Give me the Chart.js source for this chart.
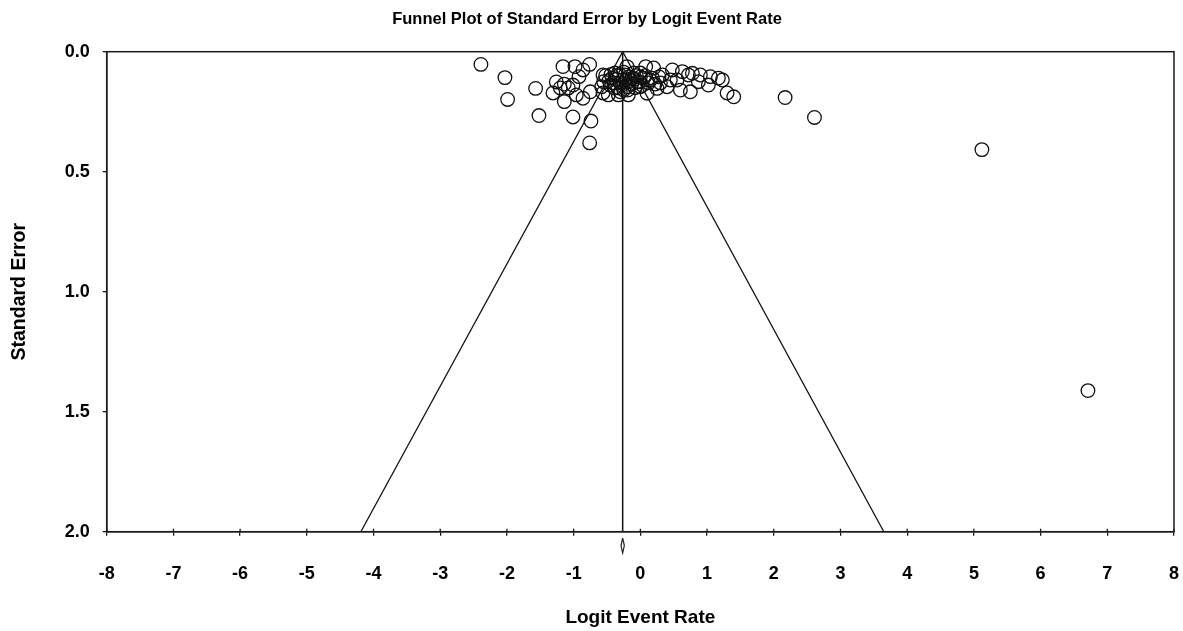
<!DOCTYPE html>
<html>
<head>
<meta charset="utf-8">
<script src="https://cdn.jsdelivr.net/npm/chart.js@4/dist/chart.umd.min.js"></script>
<style>
  html, body { margin: 0; padding: 0; background: #ffffff; }
  #wrap { width: 1183px; height: 631px; position: relative; }
</style>
</head>
<body>
<div id="wrap"><canvas id="c" width="1183" height="631"></canvas></div>
<script>
// ---- data ----
const logitRate = [
  -2.39, -2.03, -1.99, -1.57, -1.52, -1.16, -0.98, -0.76, -1.26, -1.14, -1.31, -1.14,
  -0.96, -0.86, -0.75, -1.01, -0.74, -0.76, -0.92, -1.01, -0.86, -1.08, -1.20,
  -0.56, -0.58, -0.45, -0.38, -0.30, -0.20, -0.12, -0.48, -0.33, -0.56, -0.20, -0.10,
  -0.42, -0.27, -0.05, -0.18, -0.39, -0.23, -0.15, -0.30, -0.08, -0.35, 0.05, -0.25,
  -0.52, -0.47, -0.40, -0.36, -0.31, -0.28, -0.22, -0.17, -0.13, -0.06, -0.02, 0.03,
  0.07, 0.12, 0.18, 0.22, -0.44, -0.25, -0.09, 0.00, -0.34, -0.19, 0.28, -0.55,
  0.08, 0.20, 0.33, 0.15, 0.00, 0.25, 0.10, 0.40, 0.48, 0.63, 0.55, 0.60, 0.75, 0.78,
  0.90, 0.87, 1.05, 1.02, 1.17, 1.23, 1.30, 1.40, 0.30, 0.00, 0.45, 0.72,
  2.17, 2.61, 5.12, 6.71
];
const stdError = [
  0.053, 0.108, 0.199, 0.153, 0.266, 0.062, 0.062, 0.053, 0.126, 0.135, 0.172, 0.208,
  0.180, 0.194, 0.167, 0.272, 0.289, 0.380, 0.104, 0.139, 0.076, 0.151, 0.151,
  0.097, 0.146, 0.139, 0.089, 0.167, 0.146, 0.110, 0.180, 0.180, 0.172, 0.062, 0.089,
  0.110, 0.118, 0.126, 0.180, 0.151, 0.097, 0.120, 0.130, 0.150, 0.100, 0.110, 0.160,
  0.100, 0.120, 0.130, 0.115, 0.095, 0.140, 0.120, 0.105, 0.135, 0.100, 0.125, 0.140,
  0.100, 0.130, 0.110, 0.135, 0.095, 0.085, 0.115, 0.105, 0.150, 0.160, 0.105, 0.125,
  0.062, 0.068, 0.097, 0.118, 0.146, 0.153, 0.173, 0.146, 0.076, 0.083, 0.118, 0.160,
  0.167, 0.090, 0.097, 0.125, 0.104, 0.139, 0.110, 0.118, 0.172, 0.188, 0.130, 0.089,
  0.118, 0.097,
  0.191, 0.274, 0.408, 1.412
];
// funnel (pseudo 95% limits) and summary line
const funnelX = [-4.19, -0.265, 3.65];
const funnelY = [2.0, 0.0, 2.0];
const summaryX = [-0.265, -0.265];
const summaryY = [0.0, 2.0];
// summary diamond drawn under the axis
const diamondX = [-0.265, -0.24, -0.265, -0.29, -0.265];
const diamondY = [2.027, 2.058, 2.089, 2.058, 2.027];
// axis ticks
const xTickValues = [-8,-7,-6,-5,-4,-3,-2,-1,0,1,2,3,4,5,6,7,8];
const yTickLabels = ['0.0', '0.5', '1.0', '1.5', '2.0'];

const toPts = (xs, ys) => xs.map((x, i) => ({ x: x, y: ys[i] }));

const boxPlugin = {
  id: 'boxPlugin',
  afterDraw(chart) {
    const { ctx, chartArea: a, scales } = chart;
    ctx.save();
    ctx.strokeStyle = '#1a1a1a';
    ctx.lineWidth = 1.5;
    ctx.strokeRect(a.left, a.top, a.right - a.left, a.bottom - a.top);
    // inner half of the x tick marks
    ctx.lineWidth = 1.3;
    xTickValues.forEach(v => {
      const px = scales.x.getPixelForValue(v);
      ctx.beginPath();
      ctx.moveTo(px, a.bottom);
      ctx.lineTo(px, a.bottom - 3);
      ctx.stroke();
    });
    ctx.restore();
  }
};

new Chart(document.getElementById('c'), {
  type: 'scatter',
  data: {
    datasets: [
      {
        label: 'Studies',
        data: toPts(logitRate, stdError),
        pointStyle: 'circle',
        pointRadius: 6.8,
        pointBorderColor: '#111',
        pointBackgroundColor: 'rgba(0,0,0,0)',
        pointBorderWidth: 1.3,
        showLine: false,
        order: 1
      },
      {
        label: 'Funnel',
        data: toPts(funnelX, funnelY),
        showLine: true,
        borderColor: '#111',
        borderWidth: 1.3,
        pointRadius: 0,
        fill: false,
        order: 2
      },
      {
        label: 'Summary',
        data: toPts(summaryX, summaryY),
        showLine: true,
        borderColor: '#111',
        borderWidth: 1.5,
        pointRadius: 0,
        fill: false,
        order: 2
      },
      {
        label: 'Diamond',
        data: toPts(diamondX, diamondY),
        showLine: true,
        borderColor: '#222',
        borderWidth: 1.2,
        pointRadius: 0,
        fill: false,
        clip: false,
        order: 2
      }
    ]
  },
  options: {
    responsive: false,
    animation: false,
    layout: { padding: { left: 0, right: 9, top: 0, bottom: 0 } },
    plugins: {
      legend: { display: false },
      tooltip: { enabled: false },
      title: {
        display: true,
        text: 'Funnel Plot of Standard Error by Logit Event Rate',
        color: '#000',
        font: { family: '"Liberation Sans", Arial, sans-serif', size: 16.5, weight: 'bold' },
        padding: { top: 9.2, bottom: 22.7 }
      }
    },
    scales: {
      x: {
        type: 'linear',
        min: -8,
        max: 8,
        afterBuildTicks: s => { s.ticks = xTickValues.map(v => ({ value: v })); },
        afterFit: s => { s.height = 99.3; s.paddingLeft = 0; s.paddingRight = 0; },
        ticks: {
          color: '#000',
          padding: 27.5,
          maxRotation: 0,
          autoSkip: false,
          font: { family: '"Liberation Sans", Arial, sans-serif', size: 18, weight: 'bold' },
          callback: v => String(v)
        },
        grid: { display: true, drawOnChartArea: false, drawTicks: true, tickLength: 4, color: '#1a1a1a', lineWidth: 1.3 },
        border: { display: true, color: '#1a1a1a', width: 1.5 },
        title: {
          display: true,
          text: 'Logit Event Rate',
          color: '#000',
          font: { family: '"Liberation Sans", Arial, sans-serif', size: 19, weight: 'bold' },
          padding: { top: 0, bottom: 1.6 }
        }
      },
      y: {
        type: 'linear',
        reverse: true,
        min: 0,
        max: 2,
        afterBuildTicks: s => { s.ticks = yTickLabels.map(t => ({ value: parseFloat(t) })); },
        afterFit: s => { s.width = 106.7; s.paddingTop = 0; s.paddingBottom = 0; },
        ticks: {
          color: '#000',
          padding: 13,
          font: { family: '"Liberation Sans", Arial, sans-serif', size: 18, weight: 'bold' },
          callback: (v, i) => yTickLabels[i]
        },
        grid: { display: true, drawOnChartArea: false, drawTicks: true, tickLength: 4, color: '#1a1a1a', lineWidth: 1.3 },
        border: { display: true, color: '#1a1a1a', width: 1.5 },
        title: {
          display: true,
          text: 'Standard Error',
          color: '#000',
          font: { family: '"Liberation Sans", Arial, sans-serif', size: 19.5, weight: 'bold' },
          padding: { top: 7.8, bottom: 0 }
        }
      }
    }
  },
  plugins: [boxPlugin]
});
</script>
</body>
</html>
